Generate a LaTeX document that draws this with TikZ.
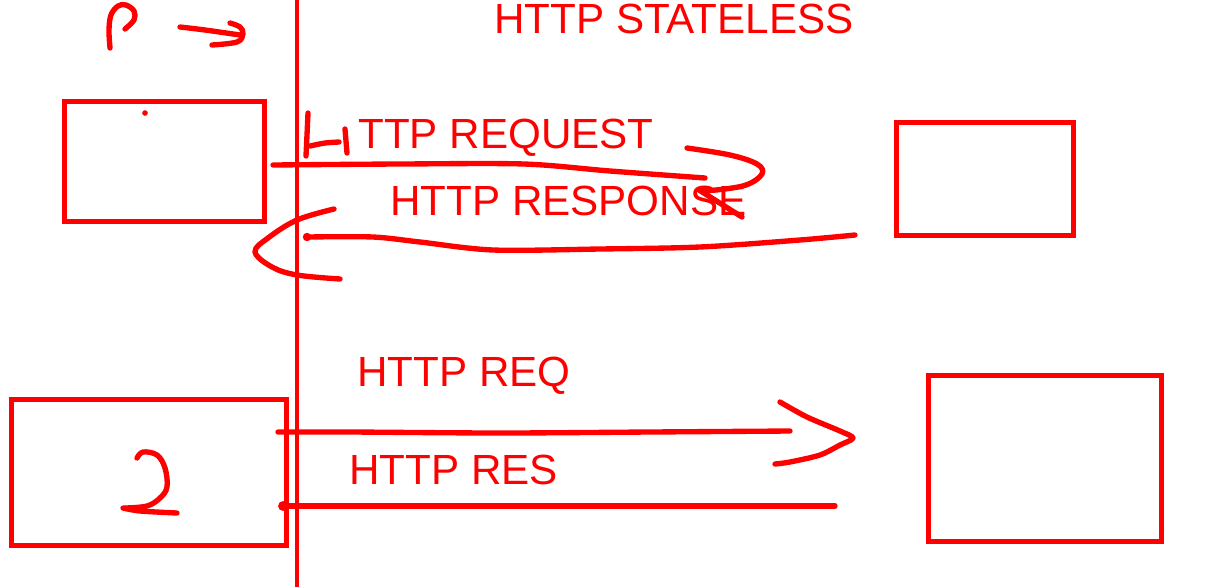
\documentclass[tikz,border=0pt]{standalone}
\usepackage{fontspec}
\setmainfont{Liberation Sans}
\usepackage{xcolor}
\definecolor{inkred}{RGB}{255,0,0}
\usepackage{tikz}

\begin{document}
\begin{tikzpicture}[x=0.025cm, y=-0.025cm,
    pen/.style={inkred, line width=3.8pt, line cap=round, line join=round},
    box/.style={draw=inkred, line width=3.6pt, inner sep=0pt},
    lbl/.style={inkred, font=\fontsize{30}{34}\selectfont, inner sep=0pt, anchor=base west}]
  \useasboundingbox[fill=white] (0,0) rectangle (1210,587);

  % Divider
  \coordinate (divtop) at (297,0);
  \coordinate (divbot) at (297,587);
  \draw[pen, line cap=butt, line width=3.4pt] (divtop) -- (divbot);

  % Boxes
  \node[box, minimum width=5cm, minimum height=3cm] (client1) at (164.5,161.5) {};
  \node[box, minimum width=4.425cm, minimum height=2.825cm] (server1) at (985,179) {};
  \node[box, minimum width=6.875cm, minimum height=3.65cm] (client2) at (149,472.5) {};
  \node[box, minimum width=5.825cm, minimum height=4.15cm] (server2) at (1045,458.5) {};
  \fill[inkred] (145,113) circle (2pt);

  % Labels
  \node[lbl] (title) at (494,33) {HTTP STATELESS};
  \node[lbl] (reqlbl) at (358,148) {TTP REQUEST};
  \node[lbl] (reslbl) at (390,215) {HTTP RESPONSE};
  \node[lbl] (reqlbl2) at (357,386) {HTTP REQ};
  \node[lbl] (reslbl2) at (349,484) {HTTP RES};

  % --- Handwritten P and arrow ---
  \draw[pen] plot[smooth, tension=0.6] coordinates {(110,48) (109,30) (111,15) (118,6) (126,5) (134,11) (134,20) (125,29)};
  \draw[pen] plot[smooth, tension=0.6] coordinates {(180,27) (205,30) (240,35)};
  \draw[pen] plot[smooth, tension=0.6] coordinates {(230,23) (240,27) (243,34) (237,42) (212,45)};

  % Handwritten H of the request label
  \draw[pen] plot[smooth, tension=0.5] coordinates {(308,113) (307,135) (306,156)};
  \draw[pen] plot[smooth, tension=0.5] coordinates {(310,146) (325,143) (339,142)};
  \draw[pen] plot[smooth, tension=0.5] coordinates {(345,129) (346,141) (347,153)};

  % --- Round 1: request ---
  \coordinate (req1a) at (273,165);
  \coordinate (req1b) at (705,178);
  \draw[pen] plot[smooth, tension=0.5] coordinates {(req1a) (400,164) (524,164) (610,171) (req1b)};
  \draw[pen] plot[smooth, tension=0.6] coordinates {(687,148) (730,155) (757,164) (762,174) (746,185) (716,190) (699,190)} -- (742,217);

  % --- Round 1: response ---
  \coordinate (res1a) at (855,235);
  \coordinate (res1b) at (307,237);
  \draw[pen] plot[smooth, tension=0.5] coordinates {(res1a) (800,240) (700,247) (600,249) (493,250) (420,242) (373,237) (res1b)};
  \fill[inkred] (res1b) circle (3pt);
  \draw[pen] plot[smooth, tension=0.6] coordinates {(334,209) (297,220) (268,238) (255,252) (272,267) (297,275) (340,279)};

  % --- Round 2: request ---
  \coordinate (req2a) at (278,432);
  \coordinate (req2b) at (790,431);
  \draw[pen] plot[smooth, tension=0.5] coordinates {(req2a) (350,432) (500,433) (650,432) (req2b)};
  \draw[pen] plot[smooth, tension=0.5] coordinates {(780,402) (807,417) (840,431) (853,438) (840,445) (820,455) (790,462) (775,464)};

  % --- Round 2: response ---
  \coordinate (res2a) at (835,506);
  \coordinate (res2b) at (283,506);
  \draw[pen] (res2a) -- (res2b);
  \fill[inkred] (res2b) circle (3.5pt);

  % Handwritten 2
  \draw[pen] plot[smooth, tension=0.6] coordinates {(137,458) (143,452) (157,455) (165,468) (167,487) (160,498) (147,506) (125,508)};
  \draw[pen] plot[smooth, tension=0.5] coordinates {(123,508) (140,511) (177,513)};
\end{tikzpicture}
\end{document}
